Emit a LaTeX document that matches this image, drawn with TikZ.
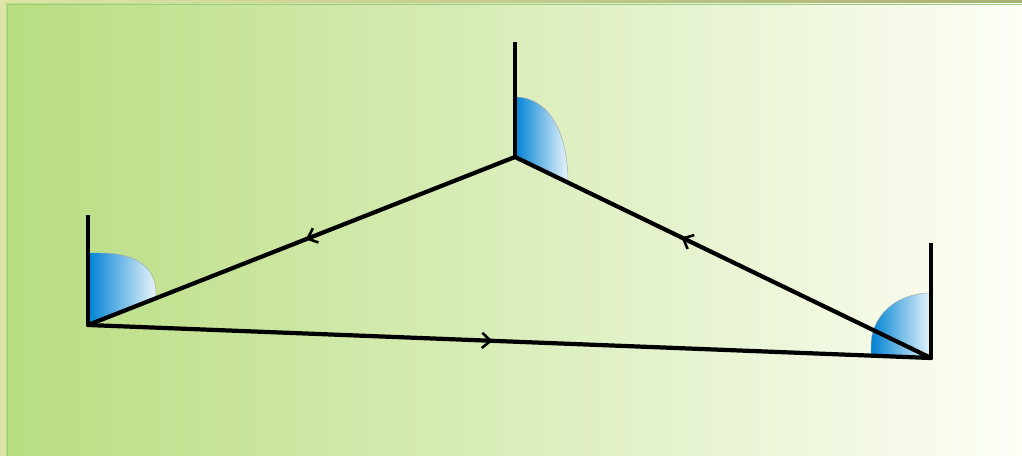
\documentclass[tikz,border=0pt]{standalone}
\usepackage{tikz}
\usetikzlibrary{positioning,arrows.meta,calc,decorations.markings}
\usepackage{xcolor}
\definecolor{bgleft}{RGB}{184,221,128}
\definecolor{bgmid}{RGB}{212,232,165}
\definecolor{bgright}{RGB}{253,254,246}
\definecolor{rimlight}{RGB}{222,228,165}
\definecolor{rimdark}{RGB}{168,178,115}
\definecolor{rimline}{RGB}{150,205,130}
\definecolor{angdark}{RGB}{0,130,212}
\definecolor{angmid}{RGB}{40,160,228}
\definecolor{anglight}{RGB}{232,244,250}

\begin{document}
\begin{tikzpicture}[x=0.03cm,y=0.03cm,
  side/.style={line width=3.6pt,line cap=round},
  leg/.style={line width=3.8pt},
  angfill/.style={left color=angdark,middle color=angmid,right color=anglight},
  angrim/.style={draw=gray!70,line width=0.4pt},
  midarrow/.style={postaction={decorate},decoration={markings,
    mark=at position #1 with {\arrow{Straight Barb[length=2.6mm,width=4.6mm,line width=2.2pt]}}}}]
\useasboundingbox (0,0) rectangle (1022,456);
% background
\shade[left color=bgleft,middle color=bgmid,right color=bgright] (0,0) rectangle (1022,456);
\shade[left color=rimlight,right color=rimdark] (0,453) rectangle (1022,456);
\fill[rimlight] (0,0) rectangle (6,456);
\draw[rimline,line width=0.8pt] (7,0) -- (7,452) -- (1022,452);
% vertices
\coordinate (A) at (88,131);
\coordinate (B) at (515,299);
\coordinate (C) at (931,98);
\coordinate (At) at (88,241);
\coordinate (Bt) at (515,414);
\coordinate (Ct) at (931,213);
% angles
\shade[angfill] (A) -- (88,203) -- (100,203) .. controls (135,203) and (156,190) .. (156,162) -- (155,157) -- cycle;
\draw[angrim] (100,203) .. controls (135,203) and (156,190) .. (156,162) -- (155,157);
\shade[angfill] (B) -- (515,359) .. controls (545,359) and (568,330) .. (568,273) -- cycle;
\draw[angrim] (515,359) .. controls (545,359) and (568,330) .. (568,273);
\shade[angfill] (C) -- (931,163) .. controls (896,163) and (871,140) .. (871,110) -- (871,100) -- cycle;
\draw[angrim] (931,163) .. controls (896,163) and (871,140) .. (871,110) -- (871,100);
% legs
\draw[leg] (A) -- (At);
\draw[leg] (B) -- (Bt);
\draw[leg] (C) -- (Ct);
% triangle
\draw[side,midarrow=0.48] (A) -- (C);
\draw[side,midarrow=0.60] (C) -- (B);
\draw[side,midarrow=0.49] (B) -- (A);
\end{tikzpicture}
\end{document}
